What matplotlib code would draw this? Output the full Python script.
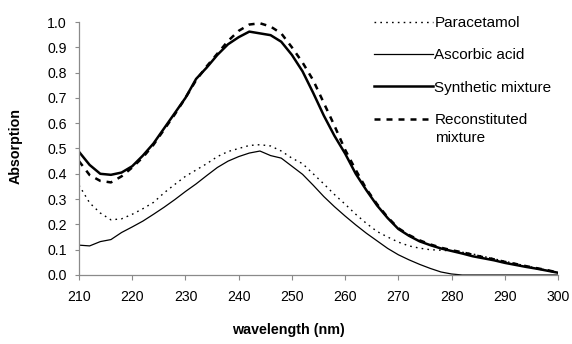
import matplotlib
matplotlib.use('Agg')
import matplotlib.pyplot as plt
from matplotlib.ticker import FormatStrFormatter, MultipleLocator

plt.rcParams['font.family'] = ['Liberation Sans', 'DejaVu Sans']
plt.rcParams['font.size'] = 10

wavelength = list(range(210, 301, 2))

paracetamol = [0.355, 0.285, 0.245, 0.218, 0.222, 0.240, 0.262, 0.287, 0.325, 0.358,
               0.390, 0.415, 0.440, 0.468, 0.488, 0.500, 0.512, 0.515, 0.510, 0.490,
               0.462, 0.440, 0.400, 0.360, 0.318, 0.280, 0.240, 0.204, 0.172, 0.150,
               0.130, 0.115, 0.106, 0.100, 0.098, 0.095, 0.090, 0.083, 0.073, 0.064,
               0.054, 0.045, 0.036, 0.027, 0.019, 0.010]

ascorbic = [0.118, 0.115, 0.132, 0.140, 0.168, 0.190, 0.213, 0.240, 0.268, 0.298,
            0.330, 0.360, 0.393, 0.425, 0.450, 0.468, 0.482, 0.490, 0.472, 0.462,
            0.430, 0.398, 0.355, 0.310, 0.270, 0.233, 0.198, 0.165, 0.135, 0.105,
            0.080, 0.060, 0.042, 0.026, 0.012, 0.004, 0.0, 0.0, 0.0, 0.0,
            0.0, 0.0, 0.0, 0.0, 0.0, 0.0]

synthetic = [0.487, 0.435, 0.400, 0.396, 0.405, 0.430, 0.472, 0.520, 0.580, 0.640,
             0.700, 0.775, 0.820, 0.870, 0.912, 0.940, 0.962, 0.955, 0.948, 0.922,
             0.870, 0.805, 0.720, 0.630, 0.550, 0.480, 0.400, 0.335, 0.275, 0.225,
             0.182, 0.155, 0.133, 0.118, 0.105, 0.095, 0.085, 0.074, 0.066, 0.058,
             0.048, 0.040, 0.032, 0.025, 0.017, 0.009]

reconstituted = [0.450, 0.395, 0.372, 0.366, 0.390, 0.425, 0.465, 0.515, 0.575, 0.635,
                 0.700, 0.770, 0.825, 0.875, 0.925, 0.965, 0.990, 0.995, 0.982, 0.955,
                 0.900, 0.840, 0.770, 0.680, 0.590, 0.495, 0.415, 0.340, 0.280, 0.228,
                 0.185, 0.158, 0.137, 0.121, 0.108, 0.098, 0.090, 0.080, 0.070, 0.062,
                 0.052, 0.044, 0.035, 0.027, 0.019, 0.010]

fig = plt.figure(figsize=(5.72, 3.44), dpi=100)
ax = fig.add_axes([79/572, 1 - 275/344, 479/572, 253/344])

ax.plot(wavelength, paracetamol, color='black', lw=1.0, linestyle=(0, (1.2, 3.0)), label='Paracetamol')
ax.plot(wavelength, ascorbic, color='black', lw=0.9, label='Ascorbic acid')
ax.plot(wavelength, synthetic, color='black', lw=1.8, label='Synthetic mixture')
ax.plot(wavelength, reconstituted, color='black', lw=1.8, linestyle=(0, (2.4, 2.4)), label='Reconstituted')

ax.set_xlim(210, 300)
ax.set_ylim(0, 1.0)
ax.xaxis.set_major_locator(MultipleLocator(10))
ax.yaxis.set_major_locator(MultipleLocator(0.1))
ax.yaxis.set_major_formatter(FormatStrFormatter('%.1f'))

for s in ['top', 'right']:
    ax.spines[s].set_visible(False)
for s in ['left', 'bottom']:
    ax.spines[s].set_color('#8a8a8a')
    ax.spines[s].set_linewidth(0.9)
ax.tick_params(axis='x', direction='out', length=3.6, width=0.8, color='#8a8a8a', pad=7, labelsize=10.2)
ax.tick_params(axis='y', direction='out', length=3, width=0.8, color='#8a8a8a', pad=5.8, labelsize=10.2)

ax.set_xlabel('wavelength (nm)', fontweight='bold', fontsize=10.3)
ax.set_ylabel('Absorption', fontweight='bold', fontsize=10.3)
ax.xaxis.set_label_coords((288 - 79) / 479, (275 - 323) / 253)
ax.yaxis.set_label_coords((23 - 79) / 479, (275 - 146) / 253)

leg = ax.legend(loc='upper left', bbox_to_anchor=(374/572, 1 - 16/344), bbox_transform=fig.transFigure,
                frameon=False, borderpad=0, borderaxespad=0, handlelength=3.85, handletextpad=0.1,
                labelspacing=1.2, fontsize=11)
fig.text(435/572, 1 - 138/344, 'mixture', fontsize=11, va='center', ha='left')

fig.savefig('out.png', dpi=100)
